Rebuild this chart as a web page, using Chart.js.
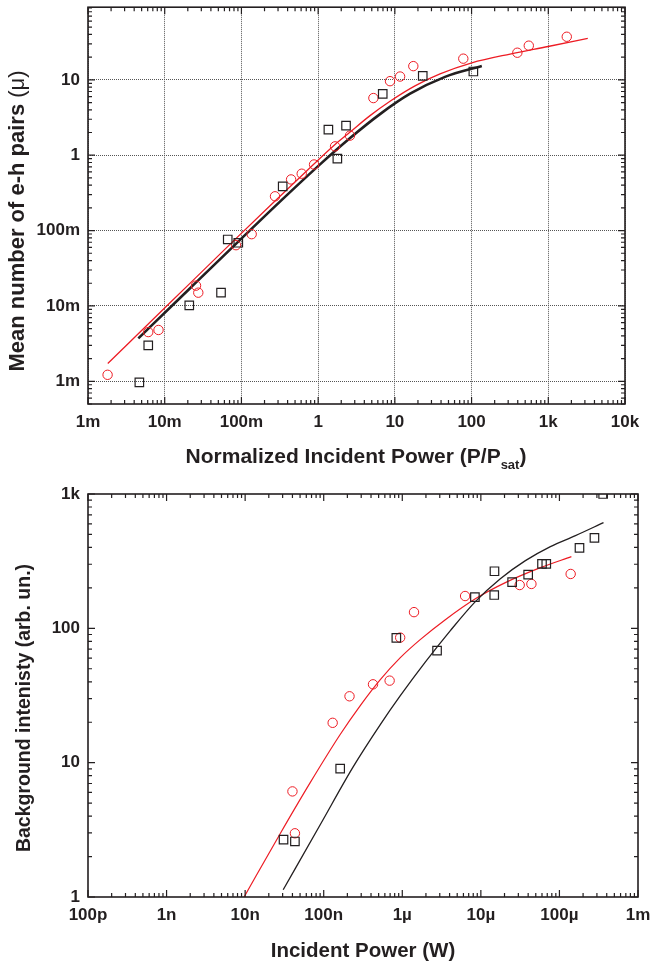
<!DOCTYPE html>
<html>
<head>
<meta charset="utf-8">
<script src="https://cdn.jsdelivr.net/npm/chart.js@4.4.0/dist/chart.umd.min.js"></script>
<style>
  html, body { margin: 0; padding: 0; background: #fff; }
  body { position: relative; width: 653px; height: 964px; overflow: hidden; font-family: "Liberation Sans", Arial, sans-serif; }
  .box { position: absolute; left: 0; }
  .box canvas { display: block; }
  .ttl { position: absolute; font-weight: bold; color: #231f20; white-space: nowrap; }
</style>
</head>
<body>
<div class="box" style="top:0"><canvas id="topChart" width="653" height="480" style="width:653px;height:480px"></canvas></div>
<div class="box" style="top:480px"><canvas id="bottomChart" width="653" height="484" style="width:653px;height:484px"></canvas></div>

<div class="ttl" style="left:17px; top:221px; font-size:22px; line-height:22px; transform: translate(-50%,-50%) rotate(-90deg);">Mean number of e-h pairs <span style="font-weight:normal">(&mu;)</span></div>
<div class="ttl" style="left:356px; top:445px; font-size:21px; line-height:21px; transform: translateX(-50%);">Normalized Incident Power (P/P<span style="font-size:13px; position:relative; top:6px">sat</span>)</div>
<div class="ttl" style="left:23px; top:708px; font-size:19.5px; line-height:20px; transform: translate(-50%,-50%) rotate(-90deg);">Background intenisty (arb. un.)</div>
<div class="ttl" style="left:363px; top:939px; font-size:20.5px; line-height:21px; transform: translateX(-50%);">Incident Power (W)</div>

<script>
// top panel: mean number of e-h pairs vs normalized power
const topXMajor = [1e-3, 1e-2, 1e-1, 1, 10, 100, 1e3, 1e4];
const topXLabels = ["1m", "10m", "100m", "1", "10", "100", "1k", "10k"];
const topYMajor = [1e-3, 1e-2, 1e-1, 1, 10];
const topYLabels = ["1m", "10m", "100m", "1", "10"];

const topCircleX = [0.0018, 0.0061, 0.0083, 0.0256, 0.0274, 0.085, 0.136, 0.274, 0.444, 0.611, 0.885, 1.66, 2.6, 5.25, 8.65, 11.7, 17.4, 78, 395, 557, 1742];
const topCircleY = [0.00122, 0.0045, 0.0048, 0.0186, 0.0150, 0.064, 0.0896, 0.285, 0.477, 0.568, 0.753, 1.31, 1.82, 5.73, 9.6, 11.06, 15.2, 19.1, 22.9, 28.4, 37.3];
const topSquareX = [0.00467, 0.0061, 0.0209, 0.0542, 0.0663, 0.091, 0.345, 1.36, 1.78, 2.31, 6.95, 23.1, 105.5];
const topSquareY = [0.00097, 0.0030, 0.0102, 0.0150, 0.0762, 0.0689, 0.386, 2.19, 0.90, 2.47, 6.53, 11.3, 12.9];
const topRedFitX = [0.00181, 0.01172, 0.0753, 0.236, 0.581, 1.66, 2.61, 4.75, 8.65, 18.3, 38.8, 100.7, 318, 994, 3273];
const topRedFitY = [0.00172, 0.0110, 0.0697, 0.214, 0.509, 1.388, 2.03, 3.35, 5.20, 8.33, 12.0, 16.8, 22.0, 27.7, 35.5];
const topBlackFitX = [0.00453, 0.0214, 0.096, 0.318, 1.059, 2.61, 6.41, 15.8, 45.1, 136];
const topBlackFitY = [0.00372, 0.0172, 0.0752, 0.242, 0.756, 1.69, 3.51, 6.54, 10.95, 15.3];

// bottom panel: background intensity vs incident power
const botXMajor = [1e-10, 1e-9, 1e-8, 1e-7, 1e-6, 1e-5, 1e-4, 1e-3];
const botXLabels = ["100p", "1n", "10n", "100n", "1\u00b5", "10\u00b5", "100\u00b5", "1m"];
const botYMajor = [1, 10, 100, 1000];
const botYLabels = ["1", "10", "100", "1k"];

const botCircleX = [4.0e-8, 4.3e-8, 1.3e-7, 2.13e-7, 4.24e-7, 6.9e-7, 9.4e-7, 1.41e-6, 6.3e-6, 3.12e-5, 4.4e-5, 1.39e-4];
const botCircleY = [6.11, 2.98, 19.8, 31.2, 38.3, 40.8, 85.3, 132, 174, 210, 214, 254];
const botSquareX = [3.08e-8, 4.3e-8, 1.62e-7, 8.4e-7, 2.77e-6, 8.4e-6, 1.49e-5, 1.48e-5, 2.5e-5, 4.0e-5, 6.0e-5, 6.8e-5, 1.8e-4, 2.79e-4, 3.6e-4];
const botSquareY = [2.67, 2.59, 9.02, 84.8, 68.2, 171, 266, 177, 221, 251, 302, 302, 397, 471, 1000];
const botRedFitX = [9.7e-9, 2.79e-8, 6.73e-8, 1.62e-7, 2.92e-7, 5.25e-7, 9.44e-7, 1.69e-6, 3.53e-6, 8.51e-6, 2.05e-5, 5.73e-5, 1.42e-4];
const botRedFitY = [1.0, 2.96, 7.10, 16.2, 26.6, 41.5, 60.5, 82.4, 116, 166, 219, 283, 342];
const botBlackFitX = [3.05e-8, 9.02e-8, 2.38e-7, 5.25e-7, 9.44e-7, 1.96e-6, 4.09e-6, 8.51e-6, 1.77e-5, 3.69e-5, 7.67e-5, 1.60e-4, 3.64e-4];
const botBlackFitY = [1.133, 3.45, 9.34, 19.2, 31.5, 56.0, 96.1, 158, 234, 319, 406, 490, 612];

const RED = "#ed1c24";
const INK = "#231f20";

function pts(xs, ys) {
    return xs.map((v, i) => ({x: v, y: ys[i]}));
}

function logAxis(pos, min, max, majors, labels, fontSize, size, gridColor) {
    return {
        type: "logarithmic",
        position: pos,
        min: min,
        max: max,
        afterBuildTicks: function (s) {
            s.ticks = majors.map(v => ({value: v}));
        },
        afterFit: function (s) {
            if (s.isHorizontal()) { s.height = size; } else { s.width = size; }
            s.paddingLeft = 0; s.paddingRight = 0; s.paddingTop = 0; s.paddingBottom = 0;
        },
        ticks: {
            autoSkip: false, maxRotation: 0, minRotation: 0, padding: 8, color: INK,
            font: {family: "'Liberation Sans', Arial, sans-serif", size: fontSize, weight: "bold"},
            callback: (v, i) => labels[i]
        },
        grid: {drawTicks: false, color: gridColor, lineWidth: 1},
        border: {display: false, dash: [1, 1]}
    };
}

// frame plus inward major/minor tick marks on all four sides
const framePlugin = {
    id: "frame",
    afterDatasetsDraw(chart) {
        const {ctx, chartArea: a} = chart;
        const x = chart.scales.x, y = chart.scales.y;
        const marks = function (s) {
            var out = [];
            var d0 = Math.floor(Math.log10(s.min)), d1 = Math.ceil(Math.log10(s.max));
            for (var d = d0; d <= d1; d++) {
                for (var k = 1; k < 10; k++) {
                    var v = k * Math.pow(10, d);
                    if (v >= s.min * 0.999 && v <= s.max * 1.001) out.push({p: s.getPixelForValue(v), len: k === 1 ? 7 : 4});
                }
            }
            return out;
        };
        ctx.save();
        ctx.strokeStyle = INK;
        ctx.lineWidth = 1.2;
        ctx.beginPath();
        marks(x).forEach(m => {
            ctx.moveTo(m.p, a.bottom); ctx.lineTo(m.p, a.bottom - m.len);
            ctx.moveTo(m.p, a.top); ctx.lineTo(m.p, a.top + m.len);
        });
        marks(y).forEach(m => {
            ctx.moveTo(a.left, m.p); ctx.lineTo(a.left + m.len, m.p);
            ctx.moveTo(a.right, m.p); ctx.lineTo(a.right - m.len, m.p);
        });
        ctx.stroke();
        ctx.lineWidth = 1.6;
        ctx.strokeRect(a.left, a.top, a.right - a.left, a.bottom - a.top);
        ctx.restore();
    }
};

function fitSet(xs, ys, color, width) {
    return {data: pts(xs, ys), showLine: true, pointRadius: 0, borderColor: color, borderWidth: width,
            cubicInterpolationMode: "monotone", clip: 0};
}

function circleSet(xs, ys) {
    return {data: pts(xs, ys), pointStyle: "circle", pointRadius: 4.7, borderColor: RED, borderWidth: 1,
            backgroundColor: "rgba(0,0,0,0)", clip: 0};
}

function squareSet(xs, ys) {
    return {data: pts(xs, ys), pointStyle: "rect", pointRadius: 6, borderColor: INK, borderWidth: 1.2,
            backgroundColor: "rgba(0,0,0,0)", clip: 0};
}

function makeChart(id, datasets, xAxis, yAxis, pad) {
    return new Chart(id, {
        type: "scatter",
        data: {datasets: datasets},
        options: {
            responsive: false,
            animation: false,
            events: [],
            layout: {padding: pad},
            plugins: {legend: {display: false}, tooltip: {enabled: false}},
            scales: {x: xAxis, y: yAxis}
        },
        plugins: [framePlugin]
    });
}

makeChart("topChart", [
    squareSet(topSquareX, topSquareY),
    circleSet(topCircleX, topCircleY),
    fitSet(topBlackFitX, topBlackFitY, INK, 2.6),
    fitSet(topRedFitX, topRedFitY, RED, 1.3)
],
    logAxis("bottom", 1e-3, 1e4, topXMajor, topXLabels, 17, 76, "#555"),
    logAxis("left", 5e-4, 92, topYMajor, topYLabels, 17, 88, "#555"),
    {left: 0, right: 28, top: 6, bottom: 0});

makeChart("bottomChart", [
    squareSet(botSquareX, botSquareY),
    circleSet(botCircleX, botCircleY),
    fitSet(botBlackFitX, botBlackFitY, INK, 1.3),
    fitSet(botRedFitX, botRedFitY, RED, 1.2)
],
    logAxis("bottom", 1e-10, 1e-3, botXMajor, botXLabels, 17, 67, "rgba(0,0,0,0)"),
    logAxis("left", 1, 1000, botYMajor, botYLabels, 17, 88, "rgba(0,0,0,0)"),
    {left: 0, right: 15, top: 14, bottom: 0});
</script>
</body>
</html>
